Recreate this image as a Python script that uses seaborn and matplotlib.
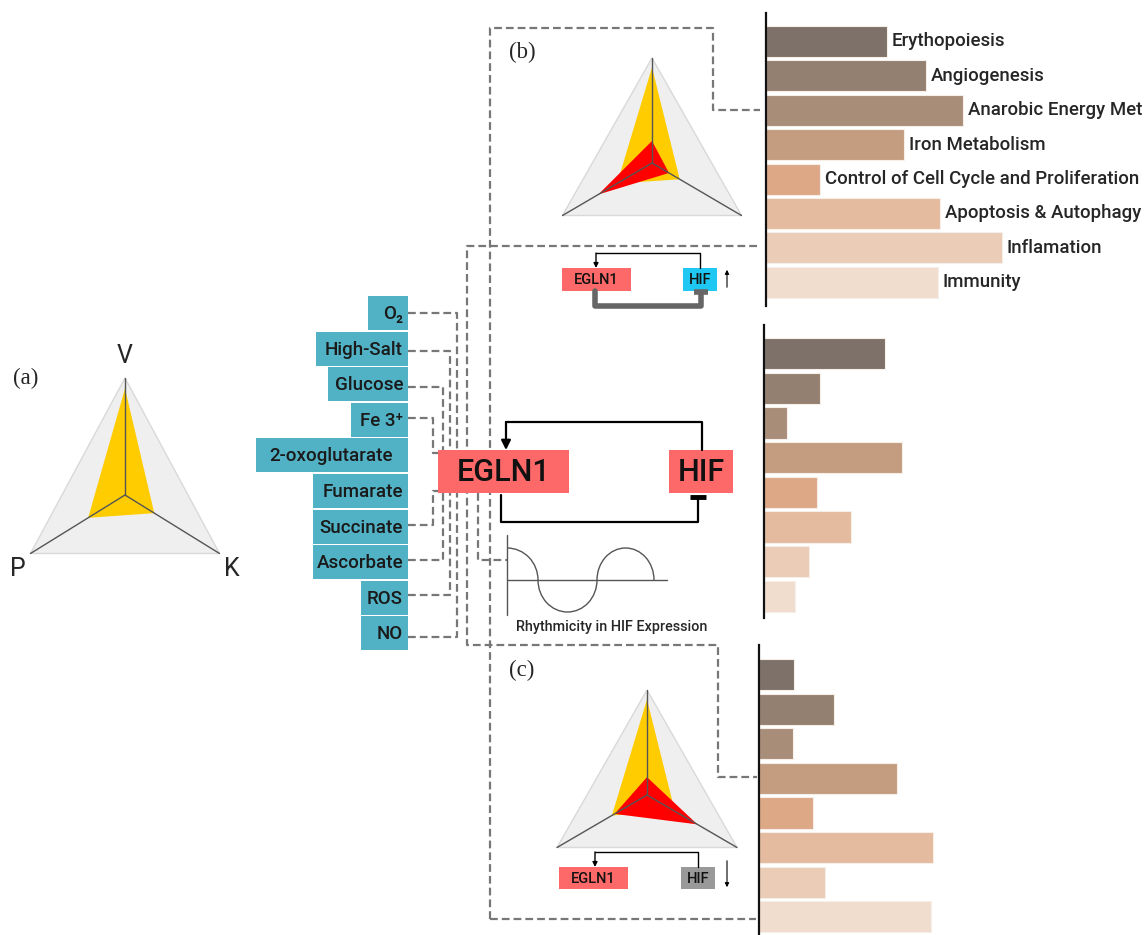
import numpy as np
import pandas as pd
import matplotlib
matplotlib.use("Agg")
import matplotlib.pyplot as plt
from matplotlib.patches import Rectangle, Polygon, Arc
import seaborn as sns

# -----------------------------
# data
# -----------------------------
processes = ["Erythopoiesis", "Angiogenesis", "Anarobic Energy Met", "Iron Metabolism",
             "Control of Cell Cycle and Proliferation", "Apoptosis & Autophagy",
             "Inflamation", "Immunity"]
scores_b = [121, 160, 197, 138, 54, 174, 236, 172]     # panel (b), HIF up
scores_mid = [121, 56, 23, 138, 53, 87, 45, 31]        # centre, rhythmic
scores_c = [35, 75, 34, 138, 54, 174, 66, 172]         # panel (c), HIF down
bar_colors = ["#7d716a", "#948070", "#a88d79", "#c49d80",
              "#dca886", "#e4bb9e", "#eaccb7", "#f1ddce"]

doshas = ["V", "P", "K"]
profile_base = [0.91, 0.39, 0.31]
profile_b = [0.21, 0.60, 0.19]
profile_c = [0.17, 0.36, 0.56]

factors = ["O₂", "High-Salt", "Glucose", "Fe 3⁺", "2-oxoglutarate",
           "Fumarate", "Succinate", "Ascorbate", "ROS", "NO"]

W, H = 1148, 935
sns.set_style("white")
plt.rcParams["font.family"] = ["Roboto", "DejaVu Sans"]
plt.rcParams["font.weight"] = "medium"

fig = plt.figure(figsize=(W / 100, H / 100), dpi=100)
ax = fig.add_axes([0, 0, 1, 1])
ax.set_xlim(0, W)
ax.set_ylim(H, 0)
ax.axis("off")

RED_BOX = "#fd6868"
TEAL = "#52b2c5"
DASH = dict(color="#777777", lw=1.6, ls=(0, (3.5, 1.8)), zorder=1)


def radar(cx, cy, R, hw, profiles, colors):
    # vertex directions V (up), P (lower left), K (lower right)
    dirs = np.array([[0, -R], [-hw, R / 2], [hw, R / 2]])
    outer = np.array([cx, cy]) + dirs
    ax.add_patch(Polygon(outer, closed=True, fc="#efefef", ec="#d9d9d9", lw=1, zorder=2))
    for vals, col in zip(profiles, colors):
        pts = np.array([cx, cy]) + dirs * np.array(vals)[:, None]
        ax.add_patch(Polygon(pts, closed=True, fc=col, ec="none", zorder=3))
    for (x, y) in outer:
        ax.plot([cx, x], [cy, y], color="#555555", lw=1, zorder=4)
    return outer


def box(x0, y0, x1, y1, text, fc, fs, **kw):
    ax.add_patch(Rectangle((x0, y0), x1 - x0, y1 - y0, fc=fc, ec="none", zorder=5))
    ax.text((x0 + x1) / 2, (y0 + y1) / 2 + 1, text, ha="center", va="center",
            fontsize=fs, color="#111111", zorder=6, **kw)


def arrow_down(x, y0, y1, lw=1.5, head=8):
    ax.annotate("", xy=(x, y1), xytext=(x, y0),
                arrowprops=dict(arrowstyle="-|>", color="black", lw=lw,
                                mutation_scale=head, shrinkA=0, shrinkB=0), zorder=6)


# -----------------------------
# (a) baseline radar
# -----------------------------
outer = radar(125, 495, 117, 94.5, [profile_base], ["#ffcc00"])
for lab, (x, y), dx, dy in zip(doshas, outer, [0, -13, 12], [-22, 15, 15]):
    ax.text(x + dx, y + dy, lab, ha="center", va="center", fontsize=18, fontweight="normal")
ax.text(26, 378, "(a)", ha="center", va="center", fontsize=16.5,
        family="Liberation Serif", fontweight="normal")

# -----------------------------
# environmental factors
# -----------------------------
box_left = [368, 316, 328, 351, 256, 313, 313, 313, 361, 361]
for i, (name, x0) in enumerate(zip(factors, box_left)):
    y0 = 296 + i * 35.6
    ax.add_patch(Rectangle((x0, y0), 408 - x0, 34, fc=TEAL, ec="none", zorder=5))
    xt = 393 if name == "2-oxoglutarate" else 403
    ax.text(xt, y0 + 18, name, ha="right", va="center", fontsize=13.5,
            color="#1a1a1a", zorder=6)

# dashed connectors into EGLN1
links = [(313, 457, 450), (351, 450, 450), (387, 443, 450), (418, 433, 453),
         (525, 433, 491), (560, 443, 493), (595, 450, 493), (637, 457, 493)]
for y, xt, yt in links:
    if xt == 433:
        ax.plot([408, xt, xt, 438], [y, y, yt, yt], **DASH)
    else:
        ax.plot([408, xt, xt], [y, y, yt], **DASH)

# long dashed frames to (b) and (c)
ax.plot([490, 490, 713, 713, 760], [919, 28, 28, 110, 110], **DASH)
ax.plot([757, 467, 467, 718, 718, 757], [246, 246, 645, 645, 777, 777], **DASH)
ax.plot([490, 756], [919, 919], **DASH)
ax.plot([478, 478, 507], [493, 560, 560], **DASH)

# -----------------------------
# central feedback loop
# -----------------------------
box(438, 450, 569, 493, "EGLN1", RED_BOX, 22)
box(669, 450, 733, 493, "HIF", RED_BOX, 22)
ax.plot([702, 702, 506], [450, 422, 422], color="black", lw=1.6, zorder=6)
arrow_down(506, 422, 450, lw=1.6, head=14)
ax.plot([501, 501, 698, 698], [495, 522, 522, 498], color="black", lw=1.6, zorder=6)
ax.plot([690, 706], [497, 497], color="black", lw=3.5, zorder=6, solid_capstyle="butt")

# rhythm sketch
ax.plot([507, 507], [535, 615], color="#555555", lw=1, zorder=4)
ax.plot([507, 667], [580, 580], color="#555555", lw=1, zorder=4)
for c, w, t1, t2 in [(507, 62, 270, 360), (567.5, 59, 0, 180), (625.5, 57, 180, 360)]:
    ax.add_patch(Arc((c, 580), w, 64, theta1=t1, theta2=t2, color="#555555", lw=1, zorder=4))
ax.text(612, 627, "Rhythmicity in HIF Expression", ha="center", va="center", fontsize=10.4)

# -----------------------------
# (b) HIF up
# -----------------------------
radar(652, 163, 105, 89.5, [profile_base, profile_b], ["#ffcc00", "#ff0000"])
ax.text(522, 52, "(b)", ha="center", va="center", fontsize=16.5,
        family="Liberation Serif", fontweight="normal")
box(562, 268, 631, 291, "EGLN1", RED_BOX, 10.5)
box(683, 268, 717, 291, "HIF", "#1ec8f3", 10.5)
ax.plot([700, 700, 596], [268, 253, 253], color="black", lw=1, zorder=6)
arrow_down(596, 253, 268, lw=1, head=7)
ax.plot([595, 595, 701, 701], [291, 306, 306, 293], color="#666666", lw=4, zorder=6)
ax.plot([694, 708], [292, 292], color="#666666", lw=4, zorder=6, solid_capstyle="butt")
ax.annotate("", xy=(727, 267), xytext=(727, 290),
            arrowprops=dict(arrowstyle="-|>", color="black", lw=0.8, mutation_scale=6))

# -----------------------------
# (c) HIF down
# -----------------------------
radar(647, 795, 105, 90, [profile_base, profile_c], ["#ffcc00", "#ff0000"])
ax.text(522, 670, "(c)", ha="center", va="center", fontsize=16.5,
        family="Liberation Serif", fontweight="normal")
box(559, 867, 628, 889, "EGLN1", RED_BOX, 10.5)
box(681, 867, 715, 889, "HIF", "#999999", 10.5)
ax.plot([698, 698, 595], [867, 852, 852], color="black", lw=1, zorder=6)
arrow_down(595, 852, 867, lw=1, head=7)
ax.annotate("", xy=(727, 890), xytext=(727, 858),
            arrowprops=dict(arrowstyle="-|>", color="black", lw=0.8, mutation_scale=6))


# -----------------------------
# bar panels
# -----------------------------
def bar_panel(scores, x_axis, y_top, y_bot, first_center, step, labels=False):
    bx = fig.add_axes([x_axis / W, 1 - y_bot / H, (W - x_axis) / W, (y_bot - y_top) / H])
    df = pd.DataFrame({"process": processes, "score": scores})
    sns.barplot(data=df, x="score", y="process", hue="process", palette=bar_colors,
                saturation=1, legend=False, width=0.9, edgecolor="#f6efe9",
                linewidth=0.8, ax=bx)
    bx.set_xlim(0, W - x_axis)
    top = -(first_center - y_top) / step
    bx.set_ylim(top + (y_bot - y_top) / step, top)
    bx.set_facecolor("none")
    for s in ["top", "right", "bottom"]:
        bx.spines[s].set_visible(False)
    bx.spines["left"].set_linewidth(1.6)
    bx.spines["left"].set_color("#111111")
    bx.set_xticks([])
    bx.set_yticks([])
    bx.set_xlabel("")
    bx.set_ylabel("")
    if labels:
        for i, (p, v) in enumerate(zip(processes, scores)):
            bx.text(v + 5, i, p, ha="left", va="center", fontsize=13.4, clip_on=False)
    return bx


bar_panel(scores_b, 766, 13, 306, 41.5, 34.4, labels=True)
bar_panel(scores_mid, 764, 325, 618, 353.6, 34.7)
bar_panel(scores_c, 759, 645, 935, 674.6, 34.6)

fig.savefig("out.png", dpi=100)
